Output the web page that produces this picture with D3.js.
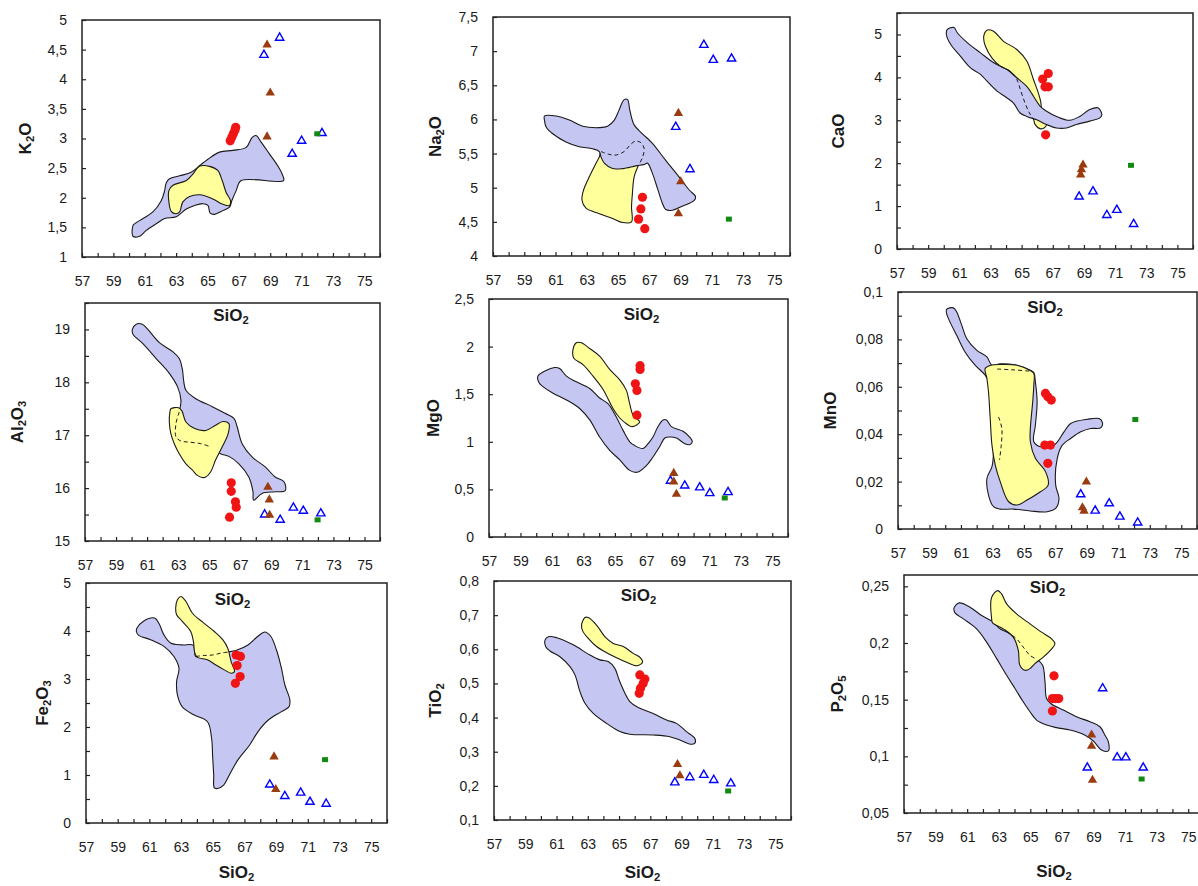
<!DOCTYPE html>
<html><head><meta charset="utf-8">
<script src="https://cdn.jsdelivr.net/npm/d3@7"></script>
<style>body{margin:0;background:#fff}svg{display:block}</style>
</head><body>
<svg id="c" width="1198" height="886"></svg>
<script>
// ---------- shared axis data ----------
const xDomain = [57, 76];
const xTickLabels = [57,59,61,63,65,67,69,71,73,75];
const xTickValues = [57,58,59,60,61,62,63,64,65,66,67,68,69,70,71,72,73,74,75,76];

const yTicksK2O = [1,1.5,2,2.5,3,3.5,4,4.5,5];
const yTicksNa2O = [4,4.5,5,5.5,6,6.5,7,7.5];
const yTicksCaO = [0,1,2,3,4,5];
const yTicksAl2O3 = [15,16,17,18,19];
const yTicksMgO = [0,0.5,1,1.5,2,2.5];
const yTicksMnO = [0,0.02,0.04,0.06,0.08,0.1];
const yTicksFe2O3 = [0,1,2,3,4,5];
const yTicksTiO2 = [0.1,0.2,0.3,0.4,0.5,0.6,0.7,0.8];
const yTicksP2O5 = [0.05,0.1,0.15,0.2,0.25];

// ---------- K2O ----------
const redK2O = [[66.45,2.96],[66.55,3.02],[66.65,3.08],[66.75,3.14],[66.8,3.19]];
const brownK2O = [[68.8,4.58],[69.0,3.77],[68.8,3.03]];
const blueK2O = [[68.6,4.41],[69.6,4.7],[70.4,2.74],[71.0,2.96],[72.3,3.09]];
const greenK2O = [[72.0,3.08]];
const lavK2O = [[60.25,1.53],[60.25,1.35],[60.67,1.35],[61.10,1.45],[61.73,1.56],[62.27,1.65],[63.01,1.68],[63.65,1.81],[64.18,1.87],[64.71,1.90],[65.03,1.87],[65.17,1.74],[65.45,1.72],[65.87,1.77],[66.41,1.84],[66.55,1.95],[66.83,2.12],[67.15,2.29],[69.85,2.29],[69.76,2.40],[69.48,2.54],[68.95,2.74],[68.42,2.94],[68.10,3.05],[67.85,3.02],[67.47,2.85],[66.62,2.80],[65.77,2.77],[65.03,2.65],[64.49,2.54],[63.96,2.43],[63.22,2.37],[62.58,2.32],[62.37,2.25],[62.27,2.12],[62.05,1.95],[61.52,1.76],[60.89,1.65],[60.35,1.56]];
const yelK2O = [[62.54,2.12],[62.80,2.21],[63.65,2.29],[64.07,2.40],[64.49,2.53],[65.13,2.53],[65.66,2.46],[65.94,2.29],[66.19,2.09],[66.47,1.95],[66.41,1.87],[65.98,1.89],[65.34,1.98],[64.49,2.05],[63.86,2.02],[63.43,1.93],[63.22,1.76],[62.97,1.73],[62.69,1.77],[62.54,1.93]];

// ---------- Na2O ----------
const redNa2O = [[66.56,4.86],[66.46,4.69],[66.31,4.54],[66.71,4.40]];
const brownNa2O = [[68.86,6.09],[69.01,5.09],[68.86,4.62]];
const blueNa2O = [[70.49,7.09],[71.09,6.87],[72.26,6.89],[68.69,5.89],[69.60,5.27]];
const greenNa2O = [[72.09,4.54]];
const lavNa2O = [[60.29,6.05],[61.04,6.05],[61.89,5.99],[62.74,5.90],[63.80,5.88],[64.33,5.90],[64.76,5.99],[65.07,6.14],[65.39,6.29],[65.61,6.29],[65.75,6.14],[66.03,5.92],[66.56,5.79],[67.20,5.65],[68.05,5.40],[68.90,5.16],[69.54,4.97],[69.96,4.87],[69.86,4.81],[69.11,4.73],[68.47,4.67],[68.05,4.68],[67.84,4.77],[67.52,4.99],[67.20,5.21],[66.88,5.36],[66.67,5.34],[66.14,5.32],[65.29,5.28],[64.65,5.28],[64.12,5.36],[63.91,5.45],[63.80,5.53],[63.37,5.57],[62.52,5.60],[61.67,5.67],[60.82,5.79],[60.40,5.89],[60.29,5.99]];
const yelNa2O = [[63.91,5.53],[64.39,5.49],[64.90,5.48],[65.39,5.53],[65.75,5.62],[66.09,5.68],[66.46,5.66],[66.67,5.57],[66.56,5.44],[66.31,5.33],[66.03,5.16],[65.92,4.92],[65.86,4.72],[65.86,4.50],[65.29,4.49],[64.65,4.55],[63.80,4.62],[62.95,4.70],[62.69,4.82],[62.80,4.97],[63.16,5.16],[63.59,5.36],[63.80,5.45]];
const dashNa2O = [[63.91,5.53],[64.39,5.49],[64.90,5.48],[65.39,5.53],[65.75,5.62],[66.09,5.68],[66.46,5.66],[66.67,5.57],[66.56,5.44],[66.31,5.33]];

// ---------- CaO ----------
const redCaO = [[66.35,3.96],[66.71,4.09],[66.50,3.78],[66.71,3.78],[66.54,2.66]];
const brownCaO = [[68.94,1.96],[68.84,1.85],[68.79,1.73]];
const blueCaO = [[68.69,1.22],[69.58,1.34],[70.47,0.79],[71.11,0.91],[72.19,0.58]];
const greenCaO = [[72.02,1.95]];
const lavCaO = [[60.23,5.12],[60.66,5.16],[60.87,5.04],[61.51,4.81],[62.36,4.57],[63.21,4.34],[64.06,4.18],[64.69,3.99],[65.33,3.79],[65.76,3.56],[66.18,3.33],[66.60,3.21],[67.24,3.09],[68.09,3.00],[68.73,3.09],[69.37,3.25],[69.90,3.29],[70.15,3.13],[70.00,3.05],[69.37,2.98],[68.52,2.90],[67.88,2.82],[67.24,2.82],[66.60,2.90],[65.97,3.01],[65.33,3.09],[64.90,3.17],[64.48,3.40],[64.06,3.52],[63.42,3.68],[62.78,3.91],[62.36,4.07],[61.72,4.22],[61.08,4.49],[60.44,4.77],[60.17,5.00]];
const yelCaO = [[62.57,4.96],[62.78,5.10],[63.17,5.08],[63.84,4.84],[64.69,4.65],[65.33,4.38],[65.76,3.95],[66.07,3.64],[66.22,3.44],[66.29,3.25],[66.56,2.98],[66.56,2.86],[66.22,2.80],[65.87,2.90],[65.76,3.03],[65.44,3.25],[65.12,3.56],[64.80,3.91],[64.27,4.14],[63.63,4.26],[63.10,4.45],[62.67,4.73]];
const dashCaO = [[63.63,4.26],[64.27,4.14],[64.69,3.95],[64.95,3.68],[65.22,3.40],[65.50,3.17],[65.76,3.03]];

// ---------- Al2O3 ----------
const redAl2O3 = [[66.42,16.10],[66.42,15.94],[66.69,15.74],[66.74,15.64],[66.31,15.45]];
const brownAl2O3 = [[68.78,16.02],[68.87,15.78],[68.89,15.49]];
const blueAl2O3 = [[68.57,15.50],[69.57,15.40],[70.42,15.63],[71.06,15.57],[72.19,15.52]];
const greenAl2O3 = [[71.98,15.40]];
const lavAl2O3 = [[60.05,19.00],[60.30,19.10],[60.69,19.10],[61.05,19.00],[61.79,18.75],[62.65,18.58],[63.07,18.45],[63.28,18.23],[63.35,18.04],[63.50,17.85],[64.14,17.69],[65.20,17.54],[66.05,17.41],[66.59,17.32],[66.80,17.16],[67.12,16.84],[67.76,16.59],[68.61,16.40],[69.25,16.21],[69.82,16.12],[69.89,15.95],[69.25,15.93],[68.40,15.90],[67.86,15.77],[67.82,15.93],[67.55,16.21],[66.91,16.46],[66.27,16.60],[65.73,16.65],[65.10,16.78],[64.46,16.84],[63.71,16.87],[63.18,16.89],[62.86,16.97],[62.86,17.22],[63.07,17.44],[63.18,17.66],[62.97,17.91],[62.43,18.17],[61.58,18.45],[60.73,18.73],[60.09,18.91]];
const yelAl2O3 = [[62.47,17.44],[62.53,17.50],[63.03,17.52],[63.24,17.46],[63.50,17.25],[64.03,17.13],[64.78,17.09],[65.41,17.19],[65.88,17.26],[66.27,17.22],[66.22,17.03],[65.84,16.78],[65.41,16.53],[65.10,16.31],[64.78,16.21],[64.56,16.20],[64.24,16.24],[63.92,16.34],[63.50,16.46],[63.07,16.65],[62.75,16.84],[62.53,17.03],[62.43,17.25]];
const dashAl2O3 = [[63.07,17.44],[62.86,17.22],[62.86,16.97],[63.18,16.89],[63.71,16.87],[64.46,16.84],[65.10,16.78]];

// ---------- MgO ----------
const redMgO = [[66.6,1.80],[66.6,1.76],[66.3,1.61],[66.4,1.54],[66.4,1.28]];
const brownMgO = [[68.74,0.67],[68.74,0.58],[68.91,0.45]];
const blueMgO = [[68.53,0.59],[69.44,0.54],[70.39,0.52],[71.03,0.46],[72.19,0.47]];
const greenMgO = [[71.98,0.41]];
const lavMgO = [[60.11,1.69],[61.17,1.78],[61.49,1.77],[61.92,1.69],[62.55,1.63],[63.40,1.56],[64.03,1.46],[64.56,1.40],[65.09,1.26],[65.52,1.12],[65.94,1.00],[66.26,0.96],[66.79,0.93],[67.11,0.98],[67.42,1.05],[67.74,1.16],[68.06,1.23],[68.27,1.23],[68.59,1.16],[69.33,1.11],[69.75,1.05],[69.92,1.00],[69.75,0.97],[69.44,0.98],[68.91,1.04],[68.49,1.05],[68.17,1.04],[67.85,0.95],[67.42,0.84],[67.00,0.75],[66.41,0.68],[65.94,0.70],[65.31,0.81],[64.67,0.91],[64.03,1.05],[63.40,1.23],[62.76,1.35],[61.92,1.44],[61.07,1.51],[60.43,1.58],[60.18,1.62]];
const yelMgO = [[62.34,1.97],[62.55,2.04],[62.87,2.04],[63.40,1.98],[64.03,1.90],[64.67,1.76],[65.31,1.65],[65.73,1.54],[65.94,1.40],[66.15,1.28],[66.58,1.21],[66.41,1.18],[66.05,1.16],[65.73,1.19],[65.31,1.25],[64.88,1.35],[64.25,1.55],[63.61,1.69],[62.97,1.81],[62.38,1.88]];

// ---------- MnO ----------
const redMnO = [[66.37,0.0572],[66.52,0.0558],[66.74,0.0544],[66.33,0.0354],[66.69,0.0354],[66.52,0.0277]];
const brownMnO = [[68.97,0.0199],[68.72,0.0090],[68.82,0.0076]];
const blueMnO = [[68.61,0.0146],[69.53,0.0077],[70.42,0.0108],[71.10,0.0052],[72.23,0.0027]];
const greenMnO = [[72.08,0.0462]];
const lavMnO = [[60.09,0.0927],[60.52,0.0933],[60.73,0.0916],[61.05,0.0860],[61.37,0.0803],[62.01,0.0754],[62.65,0.0726],[62.97,0.0691],[63.50,0.0697],[64.35,0.0694],[65.41,0.0670],[65.63,0.0660],[65.73,0.0621],[65.84,0.0537],[65.73,0.0438],[65.63,0.0368],[66.05,0.0347],[66.91,0.0354],[67.55,0.0410],[67.97,0.0445],[69.04,0.0463],[69.78,0.0466],[69.99,0.0449],[69.89,0.0427],[69.25,0.0424],[68.61,0.0410],[67.97,0.0382],[67.44,0.0354],[67.12,0.0298],[67.02,0.0185],[67.23,0.0129],[67.02,0.0087],[66.48,0.0073],[65.41,0.0076],[64.35,0.0084],[63.50,0.0084],[63.07,0.0094],[62.75,0.0143],[62.65,0.0213],[62.97,0.0263],[63.07,0.0326],[62.97,0.0438],[62.97,0.0537],[62.86,0.0607],[62.54,0.0649],[61.90,0.0691],[61.26,0.0747],[60.73,0.0817],[60.30,0.0874],[60.09,0.0909]];
const yelMnO = [[62.54,0.0677],[62.90,0.0691],[63.50,0.0694],[64.56,0.0691],[65.37,0.0670],[65.63,0.0656],[65.63,0.0607],[65.56,0.0537],[65.41,0.0424],[65.41,0.0368],[65.73,0.0298],[66.37,0.0242],[66.54,0.0185],[66.05,0.0157],[65.20,0.0122],[64.56,0.0101],[64.03,0.0115],[63.50,0.0199],[63.18,0.0270],[62.97,0.0354],[62.86,0.0466],[62.75,0.0579],[62.65,0.0635]];
const dashMnO1 = [[63.30,0.0675],[64.20,0.0672],[65.40,0.0666]];
const dashMnO2 = [[63.39,0.0473],[63.60,0.0424],[63.56,0.0354],[63.45,0.0291]];

// ---------- Fe2O3 ----------
const redFe2O3 = [[66.48,3.50],[66.75,3.47],[66.54,3.28],[66.73,3.05],[66.43,2.91]];
const brownFe2O3 = [[68.87,1.38],[68.98,0.70]];
const blueFe2O3 = [[68.60,0.80],[69.55,0.56],[70.55,0.63],[71.14,0.44],[72.16,0.40]];
const greenFe2O3 = [[72.09,1.32]];
const lavFe2O3 = [[60.22,4.06],[60.65,4.21],[61.33,4.27],[61.60,4.16],[61.92,3.92],[62.34,3.75],[63.08,3.71],[63.78,3.70],[63.93,3.47],[64.99,3.50],[65.95,3.56],[66.58,3.61],[67.22,3.71],[67.85,3.89],[68.28,3.98],[68.66,3.89],[69.02,3.61],[69.34,3.22],[69.55,2.88],[69.87,2.56],[69.81,2.42],[69.34,2.32],[68.49,2.14],[67.85,1.90],[67.32,1.62],[66.58,1.31],[66.05,1.00],[65.69,0.79],[65.31,0.72],[65.10,0.73],[65.06,1.00],[64.99,1.41],[64.93,1.76],[64.67,2.11],[63.83,2.25],[63.08,2.42],[62.77,2.67],[62.72,2.95],[62.87,3.22],[62.55,3.47],[61.92,3.68],[61.07,3.82],[60.33,3.91],[60.18,3.99]];
const yelFe2O3 = [[62.66,4.48],[62.77,4.65],[62.98,4.72],[63.30,4.62],[63.72,4.37],[64.46,4.16],[65.10,3.99],[65.63,3.82],[65.95,3.64],[66.16,3.36],[66.37,3.15],[66.16,3.12],[65.73,3.19],[65.20,3.29],[64.67,3.40],[64.04,3.45],[63.87,3.54],[63.78,3.78],[63.61,3.99],[63.08,4.20],[62.72,4.34]];
const dashFe2O3 = [[63.93,3.47],[64.46,3.49],[64.99,3.50],[65.52,3.54],[65.95,3.56]];

// ---------- TiO2 ----------
const redTiO2 = [[66.33,0.525],[66.65,0.513],[66.54,0.500],[66.37,0.486],[66.29,0.471]];
const brownTiO2 = [[68.74,0.263],[68.89,0.230]];
const blueTiO2 = [[68.57,0.210],[69.53,0.225],[70.42,0.232],[71.06,0.217],[72.15,0.207]];
const greenTiO2 = [[71.98,0.185]];
const lavTiO2 = [[60.26,0.627],[60.47,0.637],[61.01,0.634],[62.07,0.613],[63.14,0.583],[63.77,0.569],[64.31,0.564],[64.73,0.544],[65.05,0.505],[65.69,0.447],[66.33,0.427],[67.18,0.412],[68.04,0.393],[68.67,0.383],[69.31,0.359],[69.85,0.339],[69.85,0.325],[69.57,0.322],[68.89,0.334],[68.25,0.344],[67.18,0.349],[65.69,0.351],[65.05,0.359],[64.20,0.383],[63.35,0.412],[62.82,0.442],[62.50,0.476],[62.18,0.525],[61.86,0.549],[61.22,0.578],[60.58,0.595],[60.30,0.608]];
const yelTiO2 = [[62.60,0.671],[62.82,0.693],[63.03,0.693],[63.56,0.671],[64.09,0.637],[64.63,0.617],[65.27,0.608],[65.90,0.588],[66.37,0.575],[66.50,0.562],[66.16,0.552],[65.48,0.562],[64.84,0.575],[64.09,0.593],[63.56,0.608],[63.03,0.632],[62.67,0.654]];

// ---------- P2O5 ----------
const redP2O5 = [[66.5,0.171],[66.4,0.151],[66.6,0.151],[66.8,0.151],[66.4,0.140]];
const brownP2O5 = [[68.88,0.119],[68.88,0.109],[68.94,0.079]];
const blueP2O5 = [[69.58,0.160],[68.61,0.090],[70.50,0.099],[71.05,0.099],[72.15,0.090]];
const greenP2O5 = [[72.05,0.080]];
const lavP2O5 = [[60.17,0.2310],[60.50,0.2354],[61.18,0.2316],[61.92,0.2242],[62.66,0.2184],[63.08,0.2125],[63.61,0.2090],[64.13,0.2037],[64.55,0.1964],[64.98,0.1891],[65.44,0.1856],[65.78,0.1803],[65.93,0.1657],[66.03,0.1510],[66.29,0.1466],[67.09,0.1408],[67.93,0.1349],[68.78,0.1305],[69.41,0.1261],[69.72,0.1188],[69.94,0.1130],[69.94,0.1048],[69.51,0.1056],[68.99,0.1135],[68.35,0.1194],[67.51,0.1232],[66.66,0.1253],[66.03,0.1276],[65.40,0.1320],[64.98,0.1393],[64.55,0.1481],[64.03,0.1598],[63.50,0.1715],[62.87,0.1862],[62.23,0.2008],[61.60,0.2125],[60.76,0.2213],[60.23,0.2266]];
const yelP2O5 = [[62.55,0.2213],[62.55,0.2403],[62.93,0.2462],[63.18,0.2433],[63.50,0.2345],[64.13,0.2257],[64.98,0.2169],[65.71,0.2096],[66.35,0.2037],[66.56,0.1993],[66.35,0.1949],[65.82,0.1876],[65.29,0.1818],[64.98,0.1774],[64.66,0.1759],[64.34,0.1803],[64.24,0.1935],[63.92,0.2052],[63.29,0.2125],[62.61,0.2178]];
const dashP2O5 = [[63.08,0.2125],[63.61,0.2090],[64.13,0.2037],[64.55,0.1964],[64.98,0.1891],[65.44,0.1856]];

// ---------- layout (positions only) ----------
const layout = [
  {t:[['K',0],['2',1],['O',0]], box:[82,20,380,257], ydom:[1,5], yt:yTicksK2O, minor:null, ytOff:57, top:'yel',
   lav:lavK2O, yel:yelK2O, dash:[], red:redK2O, brown:brownK2O, blue:blueK2O, green:greenK2O},
  {t:[['Na',0],['2',1],['O',0]], box:[493,17,790,256], ydom:[4,7.5], yt:yTicksNa2O, minor:null, ytOff:58, top:'lav',
   lav:lavNa2O, yel:yelNa2O, dash:[dashNa2O], red:redNa2O, brown:brownNa2O, blue:blueNa2O, green:greenNa2O},
  {t:[['CaO',0]], box:[897,13,1193,249], ydom:[0,5.5], yt:yTicksCaO, minor:0.5, ytOff:59, top:'lav',
   lav:lavCaO, yel:yelCaO, dash:[dashCaO], red:redCaO, brown:brownCaO, blue:blueCaO, green:greenCaO},
  {t:[['Al',0],['2',1],['O',0],['3',1]], box:[85,303,380,541], ydom:[15,19.5], yt:yTicksAl2O3, minor:0.5, ytOff:68, top:'yel',
   lav:lavAl2O3, yel:yelAl2O3, dash:[dashAl2O3], red:redAl2O3, brown:brownAl2O3, blue:blueAl2O3, green:greenAl2O3},
  {t:[['MgO',0]], box:[489,299,788,537], ydom:[0,2.5], yt:yTicksMgO, minor:null, ytOff:56, top:'yel',
   lav:lavMgO, yel:yelMgO, dash:[], red:redMgO, brown:brownMgO, blue:blueMgO, green:greenMgO},
  {t:[['MnO',0]], box:[898,292,1197,529], ydom:[0,0.1], yt:yTicksMnO, minor:0.01, ytOff:68, top:'yel',
   lav:lavMnO, yel:yelMnO, dash:[dashMnO1,dashMnO2], red:redMnO, brown:brownMnO, blue:blueMnO, green:greenMnO},
  {t:[['Fe',0],['2',1],['O',0],['3',1]], box:[86,583,387,823], ydom:[0,5], yt:yTicksFe2O3, minor:0.5, ytOff:44, top:'yel',
   lav:lavFe2O3, yel:yelFe2O3, dash:[dashFe2O3], red:redFe2O3, brown:brownFe2O3, blue:blueFe2O3, green:greenFe2O3},
  {t:[['TiO',0],['2',1]], box:[494,581,791,820], ydom:[0.1,0.8], yt:yTicksTiO2, minor:null, ytOff:59, top:'yel',
   lav:lavTiO2, yel:yelTiO2, dash:[], red:redTiO2, brown:brownTiO2, blue:blueTiO2, green:greenTiO2},
  {t:[['P',0],['2',1],['O',0],['5',1]], box:[904,575,1204,813], ydom:[0.05,0.26], yt:yTicksP2O5, minor:0.025, ytOff:67, top:'yel',
   lav:lavP2O5, yel:yelP2O5, dash:[dashP2O5], red:redP2O5, brown:brownP2O5, blue:blueP2O5, green:greenP2O5}
];

const svg = d3.select('#c');
const LAV = '#c6c6f2', YEL = '#ffff9c', INK = '#1a1a1a';
const FONT = "'Liberation Sans', Arial, Helvetica, sans-serif";
const fmt = v => String(+v.toFixed(4)).replace('.', ',');
const has = (arr, v) => arr.some(a => Math.abs(a - v) < 1e-9);

function title(g, parts, cx, cy, rotate, size) {
  const t = g.append('text')
    .attr('transform', `translate(${cx},${cy})` + (rotate ? ' rotate(-90)' : ''))
    .attr('text-anchor', 'middle').attr('dominant-baseline', 'central')
    .attr('font-family', FONT).attr('font-weight', 'bold').attr('font-size', size).attr('fill', INK);
  let shifted = false;
  parts.forEach(([s, sub]) => {
    const ts = t.append('tspan').text(s);
    if (sub) { ts.attr('font-size', size * 0.66); if (!shifted) { ts.attr('dy', size * 0.28); shifted = true; } }
    else if (shifted) { ts.attr('dy', -size * 0.28); shifted = false; }
  });
}

const labelLayer = svg.append('g').attr('class', 'labels');

layout.forEach(p => {
  const [x0, y0, x1, y1] = p.box;
  const x = d3.scaleLinear().domain(xDomain).range([x0, x1]);
  const y = d3.scaleLinear().domain(p.ydom).range([y1, y0]);
  const g = svg.insert('g', '.labels');

  const closed = d3.line().x(d => x(d[0])).y(d => y(d[1])).curve(d3.curveCatmullRomClosed.alpha(0.5));
  const open = d3.line().x(d => x(d[0])).y(d => y(d[1])).curve(d3.curveCatmullRom.alpha(0.5));
  const fields = p.top === 'yel' ? [[p.lav, LAV], [p.yel, YEL]] : [[p.yel, YEL], [p.lav, LAV]];
  fields.forEach(([pts, c]) => g.append('path').attr('d', closed(pts))
    .attr('fill', c).attr('stroke', INK).attr('stroke-width', 1.1).attr('stroke-linejoin', 'round'));
  p.dash.forEach(ds => g.append('path').attr('d', open(ds)).attr('fill', 'none')
    .attr('stroke', INK).attr('stroke-width', 1).attr('stroke-dasharray', '4,3'));

  // frame
  g.append('rect').attr('x', x0).attr('y', y0).attr('width', x1 - x0).attr('height', y1 - y0)
    .attr('fill', 'none').attr('stroke', '#222').attr('stroke-width', 1.5);

  // x axis
  const gx = g.append('g').attr('transform', `translate(0,${y1})`)
    .call(d3.axisBottom(x).tickValues(xTickValues).tickSizeInner(-4).tickSizeOuter(0).tickPadding(19)
      .tickFormat(v => has(xTickLabels, v) ? String(v) : ''));
  gx.select('.domain').remove();
  gx.selectAll('line').attr('stroke', '#222').attr('stroke-width', 1.2);
  gx.selectAll('text').attr('font-family', FONT).attr('font-size', 14).attr('fill', INK);

  // y axis
  let yv = p.yt.slice();
  if (p.minor) {
    const lo = p.ydom[0], hi = p.ydom[1];
    for (let v = lo; v <= hi + 1e-9; v += p.minor) if (!has(yv, v)) yv.push(+v.toFixed(4));
  }
  const gy = g.append('g').attr('transform', `translate(${x0},0)`)
    .call(d3.axisLeft(y).tickValues(yv).tickSizeInner(-4).tickSizeOuter(0).tickPadding(15)
      .tickFormat(v => has(p.yt, v) ? fmt(v) : ''));
  gy.select('.domain').remove();
  gy.selectAll('line').attr('stroke', '#222').attr('stroke-width', 1.2);
  gy.selectAll('text').attr('font-family', FONT).attr('font-size', 14).attr('fill', INK);

  // markers
  g.selectAll('.blue').data(p.blue).join('path').attr('class', 'blue')
    .attr('d', d3.symbol(d3.symbolTriangle).size(30)()).attr('transform', d => `translate(${x(d[0])},${y(d[1])})`)
    .attr('fill', '#fff').attr('stroke', '#0000ff').attr('stroke-width', 1.4);
  g.selectAll('.brown').data(p.brown).join('path').attr('class', 'brown')
    .attr('d', d3.symbol(d3.symbolTriangle).size(38)()).attr('transform', d => `translate(${x(d[0])},${y(d[1])})`)
    .attr('fill', '#9a3b10');
  g.selectAll('.green').data(p.green).join('rect').attr('class', 'green')
    .attr('x', d => x(d[0]) - 3).attr('y', d => y(d[1]) - 2.5).attr('width', 6).attr('height', 5)
    .attr('fill', '#128a12');
  g.selectAll('.red').data(p.red).join('circle').attr('class', 'red')
    .attr('cx', d => x(d[0])).attr('cy', d => y(d[1])).attr('r', 4.6).attr('fill', '#f01414');

  // titles
  title(labelLayer, p.t, x0 - p.ytOff, (y0 + y1) / 2, true, 17);
  title(labelLayer, [['SiO', 0], ['2', 1]], (x0 + Math.min(x1, 1204)) / 2, Math.min(y1 + 58, 872), false, 17);
});
</script>
</body></html>
